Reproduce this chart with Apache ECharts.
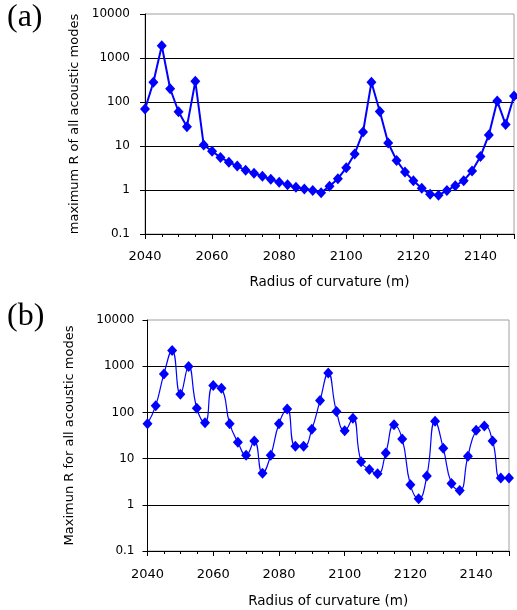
<!DOCTYPE html>
<html>
<head>
<meta charset="utf-8">
<style>
  html, body { margin: 0; padding: 0; background: #fff; }
  #chart { width: 517px; height: 610px; }
</style>
<script src="https://cdn.jsdelivr.net/npm/echarts@6/dist/echarts.min.js"></script>
</head>
<body>
<div id="chart"></div>
<script>
// Radius of curvature samples (m), 2.5 m steps from 2040 to 2150
const radius = [];
for (let i = 0; i <= 44; i++) radius.push(2040 + 2.5 * i);

// (a) maximum R of all acoustic modes
const maxRA = [
  69, 280, 1900, 200, 60, 27.5, 295, 10.5, 7.6, 5.5,
  4.3, 3.5, 2.8, 2.4, 2.05, 1.75, 1.5, 1.32, 1.15, 1.05,
  0.97, 0.87, 1.21, 1.81, 3.2, 6.6, 20.8, 280, 61, 11.7,
  4.7, 2.56, 1.63, 1.09, 0.8, 0.76, 0.97, 1.25, 1.63, 2.7,
  5.8, 17.8, 105, 31, 137
];

// (b) maximum R for all acoustic modes
const maxRB = [
  57, 140, 680, 2200, 247, 980, 123, 60, 380, 332,
  57, 22.6, 11.8, 24, 4.8, 11.8, 57, 119, 18.5, 18.5,
  43, 180, 710, 104, 40, 75, 8.6, 5.8, 4.7, 13.3,
  54, 26.7, 2.7, 1.35, 4.2, 64, 16.8, 2.9, 2.04, 11.3,
  41, 51, 24, 3.8, 3.8
];

const xTickLabels = ['2040', '2060', '2080', '2100', '2120', '2140'];
const yTickLabels = ['0.1', '1', '10', '100', '1000', '10000'];

const FONT = 'DejaVu Sans';
const BLUE = '#0000ff';

function xAxisDef(gridIndex, nameGap, labelMargin) {
  return {
    type: 'value', gridIndex: gridIndex,
    min: 2040, max: 2150, interval: 20,
    name: 'Radius of curvature (m)', nameLocation: 'middle', nameGap: nameGap,
    nameTextStyle: { fontFamily: FONT, fontSize: 13.5, color: '#000' },
    axisLine: { show: true, onZero: false, lineStyle: { color: '#000', width: 1 } },
    axisTick: { show: true, inside: false, length: 5, lineStyle: { color: '#000' } },
    minorTick: { show: true, splitNumber: 4, length: 3, lineStyle: { color: '#000' } },
    axisLabel: {
      fontFamily: FONT, fontSize: 13, color: '#000', margin: labelMargin,
      formatter: v => xTickLabels.includes(String(v)) ? String(v) : ''
    },
    splitLine: { show: false }
  };
}

function yAxisDef(gridIndex, name, nameGap, labelMargin) {
  return {
    type: 'log', logBase: 10, gridIndex: gridIndex,
    min: 0.1, max: 10000,
    name: name, nameLocation: 'middle', nameGap: nameGap,
    nameTextStyle: { fontFamily: FONT, fontSize: 13, color: '#000' },
    axisLine: { show: true, onZero: false, lineStyle: { color: '#000', width: 1 } },
    axisTick: { show: true, inside: false, length: 5, lineStyle: { color: '#000' } },
    axisLabel: {
      fontFamily: FONT, fontSize: 12, color: '#000', margin: labelMargin,
      formatter: v => {
        const idx = Math.round(Math.log10(v)) + 1;
        return yTickLabels[idx] !== undefined ? yTickLabels[idx] : '';
      }
    },
    splitLine: { show: true, showMinLine: false, showMaxLine: false, lineStyle: { color: '#000', width: 1 } }
  };
}

const chart = echarts.init(document.getElementById('chart'), null, { renderer: 'canvas' });

chart.setOption({
  animation: false,
  backgroundColor: '#fff',
  grid: [
    { left: 145, top: 14, width: 370, height: 220, show: true, borderColor: '#a0a0a0', borderWidth: 1, backgroundColor: 'transparent' },
    { left: 147.5, top: 320, width: 361.5, height: 231, show: true, borderColor: '#a0a0a0', borderWidth: 1, backgroundColor: 'transparent' }
  ],
  xAxis: [xAxisDef(0, 41, 16), xAxisDef(1, 43, 17)],
  yAxis: [
    yAxisDef(0, 'maximum R of all acoustic modes', 58, 15),
    yAxisDef(1, 'Maximun R for all acoustic modes', 71, 13)
  ],
  graphic: [
    { type: 'text', left: 7, top: 2, style: { text: '(a)', font: '32px "Liberation Serif"', fill: '#000' } },
    { type: 'text', left: 7, top: 301, style: { text: '(b)', font: '32px "Liberation Serif"', fill: '#000' } }
  ],
  series: [
    {
      type: 'line', xAxisIndex: 0, yAxisIndex: 0,
      data: radius.map((r, i) => [r, maxRA[i]]),
      symbol: 'diamond', symbolSize: [10, 11],
      itemStyle: { color: BLUE },
      lineStyle: { color: BLUE, width: 2 },
      smooth: false
    },
    {
      type: 'line', xAxisIndex: 1, yAxisIndex: 1,
      data: radius.map((r, i) => [r, maxRB[i]]),
      symbol: 'diamond', symbolSize: [10, 11],
      itemStyle: { color: BLUE },
      lineStyle: { color: BLUE, width: 1.2 },
      smooth: 0.5
    }
  ]
});
</script>
</body>
</html>
